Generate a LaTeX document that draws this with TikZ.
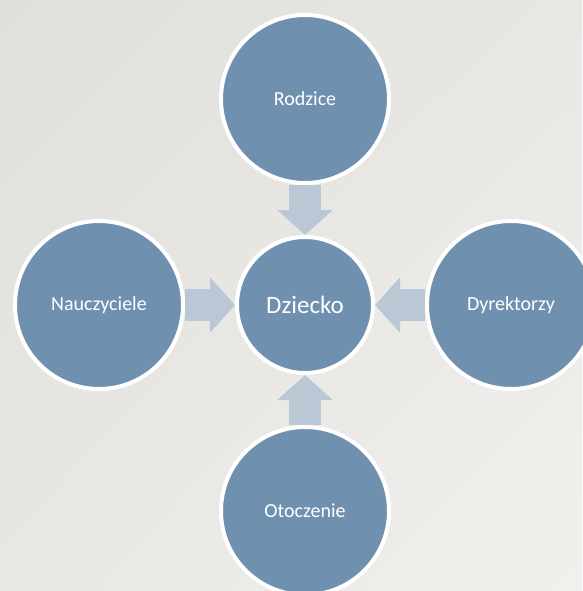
\documentclass[tikz,border=0pt]{standalone}
\usepackage{fontspec}
\setmainfont{Carlito}
\usetikzlibrary{positioning,arrows.meta,shadings}
\definecolor{disc}{RGB}{112,144,176}
\definecolor{flowblue}{RGB}{188,199,214}
\definecolor{bgdark}{RGB}{225,223,219}
\definecolor{bgmid}{RGB}{233,231,227}
\definecolor{bglight}{RGB}{242,240,236}

\begin{document}
\begin{tikzpicture}[group/.style={draw=white,line width=4pt,fill=disc,circle,minimum size=168pt,inner sep=0pt,text=white,font=\fontsize{20}{24}\selectfont},kid/.style={group,minimum size=136pt,font=\fontsize{25}{30}\selectfont},flow/.style={draw=flowblue,line width=32pt,-{Triangle[width=54pt,length=25pt]}}]
\useasboundingbox (0,0) rectangle (582pt,-591pt);
\shade[upper left=bgdark,upper right=bgmid,lower left=bgmid,lower right=bglight] (0,0) rectangle (582pt,-591pt);

\node[kid] (Dziecko) at (305pt,-305pt) {Dziecko};
\node[group, above=50pt of Dziecko] (Rodzice) {Rodzice};
\node[group, left=50pt of Dziecko] (Nauczyciele) {Nauczyciele};
\node[group, right=50pt of Dziecko] (Dyrektorzy) {Dyrektorzy};
\node[group, below=50pt of Dziecko] (Otoczenie) {Otoczenie};

\foreach \s in {Rodzice,Nauczyciele,Dyrektorzy,Otoczenie} {
  \draw[flow] (\s) -- (Dziecko);
}
\end{tikzpicture}
\end{document}
